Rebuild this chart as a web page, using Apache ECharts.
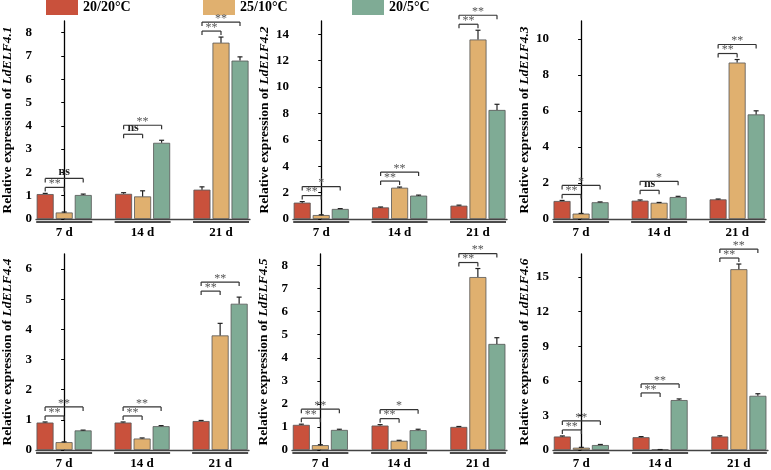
<!DOCTYPE html>
<html>
<head>
<meta charset="utf-8">
<script src="https://cdn.jsdelivr.net/npm/echarts@6/dist/echarts.min.js"></script>
<style>
  html, body { margin: 0; padding: 0; background: #fff; }
  #chart { width: 771px; height: 470px; }
</style>
</head>
<body>
<div id="chart"></div>
<script>
var DAYS = ['7 d', '14 d', '21 d'];
var TREATMENTS = ['20/20°C', '25/10°C', '20/5°C'];
var GENES = ['LdELF4.1', 'LdELF4.2', 'LdELF4.3', 'LdELF4.4', 'LdELF4.5', 'LdELF4.6'];

//每个基因: [20/20, 25/10, 20/5] x [7 d, 14 d, 21 d]
var mean41 = [[1.07, 1.08, 1.26], [0.28, 0.97, 7.57], [1.03, 3.27, 6.80]];
var err41  = [[0.03, 0.05, 0.12], [0.02, 0.24, 0.24], [0.04, 0.11, 0.16]];
var sig41  = [['**', 'ns'], ['ns', '**'], ['**', '**']];

var mean42 = [[1.24, 0.88, 1.01], [0.30, 2.37, 13.6], [0.76, 1.77, 8.26]];
var err42  = [[0.08, 0.03, 0.04], [0.02, 0.05, 0.70], [0.03, 0.04, 0.43]];
var sig42  = [['**', '*'], ['**', '**'], ['**', '**']];

var mean43 = [[1.00, 1.02, 1.09], [0.30, 0.90, 8.69], [0.93, 1.22, 5.81]];
var err43  = [[0.03, 0.04, 0.02], [0.01, 0.02, 0.17], [0.02, 0.04, 0.20]];
var sig43  = [['**', '*'], ['ns', '*'], ['**', '**']];

var mean44 = [[0.91, 0.91, 0.96], [0.26, 0.38, 3.80], [0.65, 0.79, 4.85]];
var err44  = [[0.02, 0.02, 0.02], [0.01, 0.02, 0.40], [0.01, 0.02, 0.22]];
var sig44  = [['**', '**'], ['**', '**'], ['**', '**']];

var mean45 = [[1.09, 1.06, 1.00], [0.21, 0.40, 7.50], [0.87, 0.86, 4.60]];
var err45  = [[0.03, 0.04, 0.02], [0.02, 0.02, 0.37], [0.03, 0.04, 0.27]];
var sig45  = [['**', '**'], ['**', '*'], ['**', '**']];

var mean46 = [[1.17, 1.11, 1.17], [0.20, 0.03, 15.68], [0.43, 4.33, 4.70]];
var err46  = [[0.05, 0.05, 0.06], [0.03, 0.01, 0.45], [0.05, 0.10, 0.18]];
var sig46  = [['**', '**'], ['**', '**'], ['**', '**']];

var ticks41 = [0, 1, 2, 3, 4, 5, 6, 7, 8];
var ticks42 = [0, 2, 4, 6, 8, 10, 12, 14];
var ticks43 = [0, 2, 4, 6, 8, 10];
var ticks44 = [0, 1, 2, 3, 4, 5, 6];
var ticks45 = [0, 1, 2, 3, 4, 5, 6, 7, 8];
var ticks46 = [0, 3, 6, 9, 12, 15];
var yMax = [8.5, 15, 11, 6.5, 8.5, 17];

var means = [mean41, mean42, mean43, mean44, mean45, mean46];
var errs = [err41, err42, err43, err44, err45, err46];
var sigs = [sig41, sig42, sig43, sig44, sig45, sig46];
var ticks = [ticks41, ticks42, ticks43, ticks44, ticks45, ticks46];

var COLORS = ['#C9513C', '#E0B06F', '#7FAB95'];
var FONT = '"Liberation Serif", "Times New Roman", serif';
//图位置 [left, top, width, height]
var boxes = [[34, 21, 216, 198], [293, 21, 214, 198], [553, 21, 213, 198],
             [32, 254, 217, 198], [292, 254, 215, 198], [553, 254, 215, 198]];

function line(x1, y1, x2, y2, w, c) {
    return { type: 'line', shape: { x1: x1, y1: y1, x2: x2, y2: y2 },
             style: { stroke: c, lineWidth: w } };
}

//误差线、分组下划线、显著性标记
function overlay(k) {
    return {
        type: 'custom', xAxisIndex: k, yAxisIndex: k, z: 5, silent: true, clip: false,
        data: DAYS.map(function (d, i) { return [i, 0]; }),
        renderItem: function (params, api) {
            var i = api.value(0);
            var origin = api.coord([i, 0]);
            var xs = [origin[0] - 19, origin[0], origin[0] + 19];
            var children = [];
            var top = origin[1];
            for (var t = 0; t < 3; t++) {
                var m = means[k][t][i], e = errs[k][t][i];
                var y0 = api.coord([i, m])[1];
                var y1 = api.coord([i, m + e])[1];
                top = Math.min(top, y1);
                children.push(line(xs[t], y0, xs[t], y1, 1.2, '#222'));
                children.push(line(xs[t] - 2.5, y1, xs[t] + 2.5, y1, 1.2, '#222'));
            }
            children.push(line(xs[0] - 9, origin[1] + 3, xs[2] + 9, origin[1] + 3, 1.6, '#111'));
            var levels = [top - 6, top - 15];
            var ends = [xs[1], xs[2]];
            for (var b = 0; b < 2; b++) {
                var y = levels[b];
                children.push(line(xs[0], y, ends[b], y, 1.2, '#333'));
                children.push(line(xs[0], y, xs[0], y + 4, 1.2, '#333'));
                children.push(line(ends[b], y, ends[b], y + 4, 1.2, '#333'));
                var s = sigs[k][i][b];
                var isNs = s === 'ns';
                children.push({
                    type: 'text',
                    style: {
                        text: s, x: (xs[0] + ends[b]) / 2, y: isNs ? y - 0.5 : y + 2.5,
                        align: 'center', verticalAlign: 'bottom',
                        font: (isNs ? 'bold 12px ' : '12px ') + FONT,
                        fill: isNs ? '#222' : '#555'
                    }
                });
            }
            return { type: 'group', children: children };
        }
    };
}

function buildOption() {
    var grid = [], xAxis = [], yAxis = [], series = [];
    for (var k = 0; k < 6; k++) {
        var b = boxes[k];
        grid.push({ left: b[0], top: b[1], width: b[2], height: b[3] });
        xAxis.push({
            type: 'value', gridIndex: k, min: -0.36, max: 2.37,
            axisLine: { show: true, onZero: false, lineStyle: { color: '#444', width: 1.3 } },
            axisTick: { show: false },
            splitLine: { show: false },
            axisLabel: {
                customValues: [0, 1, 2],
                formatter: function (v) { return DAYS[Math.round(v)]; },
                fontFamily: FONT, fontWeight: 'bold', fontSize: 13, color: '#000', margin: 7
            }
        });
        yAxis.push({
            type: 'value', gridIndex: k, min: 0, max: yMax[k],
            name: 'Relative expression of {i|' + GENES[k] + '}',
            nameLocation: 'middle', nameRotate: 90, nameGap: 21,
            nameTextStyle: {
                fontFamily: FONT, fontWeight: 'bold', fontSize: 13.5, color: '#000',
                rich: { i: { fontFamily: FONT, fontWeight: 'bold', fontStyle: 'italic', fontSize: 13.5, color: '#000' } }
            },
            axisLine: { show: true, lineStyle: { color: '#000', width: 1.3 } },
            axisTick: { show: true, length: 3, customValues: ticks[k], lineStyle: { color: '#000' } },
            splitLine: { show: false },
            axisLabel: {
                customValues: ticks[k], fontFamily: FONT, fontWeight: 'bold',
                fontSize: 13, color: '#000', margin: 4
            }
        });
        for (var t = 0; t < 3; t++) {
            series.push({
                type: 'bar', name: TREATMENTS[t], xAxisIndex: k, yAxisIndex: k,
                data: means[k][t].map(function (v, i) { return [i, v]; }),
                barWidth: 17, barGap: '12%',
                itemStyle: { color: COLORS[t], borderColor: '#555', borderWidth: 0.8 }
            });
        }
        series.push(overlay(k));
    }
    var legendLeft = [46, 203, 352];
    var legend = TREATMENTS.map(function (name, t) {
        return {
            data: [name], left: legendLeft[t], top: 0, padding: 0,
            icon: 'rect', itemWidth: 32, itemHeight: 15,
            itemStyle: { borderWidth: 0 },
            textStyle: { fontFamily: FONT, fontWeight: 'bold', fontSize: 14, color: '#000' }
        };
    });
    return { animation: false, backgroundColor: '#fff', legend: legend,
             grid: grid, xAxis: xAxis, yAxis: yAxis, series: series };
}

var myChart = echarts.init(document.getElementById('chart'));
myChart.setOption(buildOption());
</script>
</body>
</html>
